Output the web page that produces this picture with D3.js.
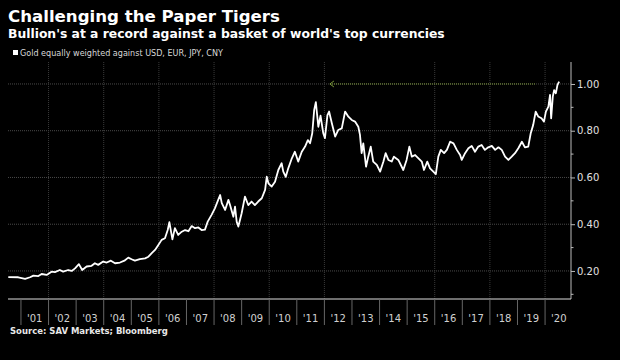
<!DOCTYPE html>
<html><head><meta charset="utf-8">
<script src="https://cdn.jsdelivr.net/npm/d3@7"></script>
<style>
html,body{margin:0;padding:0;background:#000;}
svg{display:block;}
</style></head>
<body>
<svg id="chart" width="620" height="360"></svg>
<script>
// ---- data (decimal year, index value) ----
const years = [2000.54,2000.90,2001.15,2001.33,2001.45,2001.63,2001.75,2001.93,2002.11,2002.23,2002.41,2002.53,2002.71,2002.84,2002.96,2003.10,2003.22,2003.38,2003.56,2003.68,2003.80,2003.98,2004.11,2004.26,2004.41,2004.59,2004.75,2004.89,2005.01,2005.13,2005.31,2005.50,2005.62,2005.74,2005.86,2005.98,2006.10,2006.22,2006.32,2006.38,2006.49,2006.58,2006.70,2006.83,2006.95,2007.07,2007.19,2007.31,2007.43,2007.55,2007.67,2007.77,2007.91,2008.03,2008.15,2008.22,2008.28,2008.40,2008.52,2008.58,2008.70,2008.76,2008.82,2008.88,2008.94,2009.00,2009.12,2009.24,2009.36,2009.48,2009.60,2009.73,2009.85,2009.91,2009.97,2010.09,2010.21,2010.33,2010.45,2010.51,2010.60,2010.69,2010.82,2010.93,2011.05,2011.18,2011.30,2011.40,2011.48,2011.56,2011.63,2011.69,2011.78,2011.86,2011.96,2012.02,2012.11,2012.17,2012.27,2012.39,2012.50,2012.63,2012.75,2012.87,2012.99,2013.11,2013.23,2013.29,2013.35,2013.41,2013.51,2013.59,2013.68,2013.77,2013.90,2014.02,2014.14,2014.22,2014.32,2014.44,2014.52,2014.68,2014.86,2014.98,2015.08,2015.17,2015.29,2015.41,2015.53,2015.61,2015.73,2015.83,2015.95,2016.04,2016.13,2016.22,2016.34,2016.44,2016.56,2016.68,2016.80,2016.92,2016.98,2017.10,2017.22,2017.34,2017.46,2017.58,2017.70,2017.82,2017.94,2018.07,2018.19,2018.31,2018.43,2018.55,2018.67,2018.79,2018.91,2019.03,2019.16,2019.27,2019.39,2019.48,2019.57,2019.66,2019.75,2019.87,2019.96,2020.03,2020.12,2020.18,2020.22,2020.28,2020.33,2020.39,2020.45,2020.51];
const values = [0.174,0.173,0.166,0.173,0.180,0.178,0.187,0.183,0.197,0.195,0.204,0.197,0.204,0.200,0.211,0.229,0.204,0.219,0.222,0.233,0.226,0.240,0.236,0.244,0.233,0.236,0.244,0.257,0.250,0.244,0.251,0.254,0.261,0.276,0.290,0.311,0.333,0.340,0.375,0.409,0.335,0.383,0.354,0.368,0.375,0.370,0.392,0.383,0.386,0.375,0.377,0.411,0.440,0.468,0.504,0.525,0.490,0.461,0.504,0.482,0.432,0.475,0.411,0.390,0.418,0.447,0.518,0.482,0.497,0.482,0.497,0.511,0.547,0.603,0.575,0.561,0.582,0.632,0.661,0.625,0.603,0.639,0.682,0.710,0.668,0.710,0.732,0.760,0.746,0.789,0.889,0.922,0.817,0.864,0.789,0.768,0.867,0.882,0.832,0.775,0.803,0.810,0.882,0.860,0.846,0.839,0.817,0.782,0.704,0.746,0.646,0.689,0.732,0.668,0.654,0.625,0.668,0.704,0.675,0.668,0.689,0.675,0.632,0.675,0.732,0.689,0.696,0.682,0.668,0.632,0.668,0.639,0.625,0.614,0.689,0.718,0.704,0.718,0.753,0.746,0.718,0.696,0.675,0.704,0.725,0.735,0.710,0.732,0.739,0.718,0.729,0.735,0.718,0.729,0.718,0.689,0.675,0.689,0.704,0.725,0.753,0.729,0.732,0.789,0.825,0.882,0.861,0.853,0.839,0.882,0.903,0.953,0.853,0.946,0.974,0.960,0.996,1.010];
const yearLabels = ["'01","'02","'03","'04","'05","'06","'07","'08","'09","'10","'11","'12","'13","'14","'15","'16","'17","'18","'19","'20"];
const labelYears = d3.range(2001, 2021);
const gridYears = [2002,2004,2006,2008,2010,2012,2016,2018,2020];
const yTicks = [0.2,0.4,0.6,0.8,1.0];
const yMinorTicks = [0.1,0.3,0.5,0.7,0.9];
const recordLevel = [1.0];
const recordSpan = [2012.2, 2019.65];

const title = "Challenging the Paper Tigers";
const subtitle = "Bullion's at a record against a basket of world's top currencies";
const legendText = "Gold equally weighted against USD, EUR, JPY, CNY";
const sourceText = "Source: SAV Markets; Bloomberg";

// ---- layout ----
const svg = d3.select("#chart");
const pL = 8, pR = 571, pT = 62, pB = 299;
const x = d3.scaleLinear().domain([2000.53, 2020.94]).range([pL, pR]);
const y = d3.scaleLinear().domain([0.08, 1.094]).range([pB, pT]);

svg.append("rect").attr("width",620).attr("height",360).attr("fill","#000");

function fitText(sel, target) {
  const w = sel.node().getComputedTextLength();
  const fs = parseFloat(sel.attr("font-size"));
  sel.attr("font-size", (fs * target / w).toFixed(2));
}

const tt = svg.append("text").attr("x",8).attr("y",22).attr("fill","#fff")
  .attr("font-family","DejaVu Sans").attr("font-weight","bold").attr("font-size",17).text(title);
fitText(tt, 272);
const st = svg.append("text").attr("x",8).attr("y",38).attr("fill","#fff")
  .attr("font-family","DejaVu Sans").attr("font-weight","bold").attr("font-size",13).text(subtitle);
fitText(st, 437);

// legend
svg.append("rect").attr("x",13).attr("y",50).attr("width",5).attr("height",5).attr("fill","#fff");
const lt = svg.append("text").attr("x",20).attr("y",55.5).attr("fill","#d8d8d8")
  .attr("font-family","DejaVu Sans").attr("font-size",8.5).text(legendText);
fitText(lt, 203);

// grid
const g = svg.append("g");
g.selectAll("line.hg").data(yTicks).join("line").attr("class","hg")
  .attr("x1",pL).attr("x2",pR).attr("y1",d=>y(d)).attr("y2",d=>y(d))
  .attr("stroke","#4a4a4a").attr("stroke-width",1).attr("stroke-dasharray","1,1");
g.selectAll("line.vg").data(gridYears).join("line").attr("class","vg")
  .attr("x1",d=>x(d)).attr("x2",d=>x(d)).attr("y1",pT).attr("y2",pB)
  .attr("stroke","#3a3a3a").attr("stroke-width",1).attr("stroke-dasharray","1,1");

// record arrow
const ag = svg.append("g");
ag.append("line").attr("x1",x(recordSpan[0])).attr("x2",x(recordSpan[1]))
  .attr("y1",y(recordLevel[0])).attr("y2",y(recordLevel[0]))
  .attr("stroke","#7d9a3a").attr("stroke-width",1).attr("stroke-dasharray","1,1");
ag.append("path")
  .attr("d",`M${x(recordSpan[0])+4},${y(recordLevel[0])-3}L${x(recordSpan[0])},${y(recordLevel[0])}L${x(recordSpan[0])+4},${y(recordLevel[0])+3}`)
  .attr("fill","none").attr("stroke","#7d9a3a").attr("stroke-width",1);

// right axis
const ya = svg.append("g").attr("transform",`translate(${pR},0)`)
  .call(d3.axisRight(y).tickValues(yTicks).tickFormat(d3.format(".2f")).tickSize(4).tickPadding(2));
ya.select(".domain").attr("stroke","#bbb").attr("d",`M0,${pT}V${pB}`);
ya.selectAll(".tick line").attr("stroke","#bbb");
ya.selectAll(".tick text").attr("fill","#e0e0e0").attr("font-family","DejaVu Sans").attr("font-size",10);
svg.append("g").selectAll("line").data(yMinorTicks).join("line")
  .attr("x1",pR).attr("x2",pR+2.5).attr("y1",d=>y(d)).attr("y2",d=>y(d)).attr("stroke","#bbb");

// bottom axis
svg.append("line").attr("x1",pL).attr("x2",pR).attr("y1",pB).attr("y2",pB).attr("stroke","#ddd");
svg.append("g").selectAll("line").data(labelYears).join("line")
  .attr("x1",d=>x(d)).attr("x2",d=>x(d)).attr("y1",pB).attr("y2",pB+26)
  .attr("stroke","#666").attr("stroke-width",1);
svg.append("g").selectAll("text").data(labelYears).join("text")
  .attr("x",d=>x(d+0.5)).attr("y",322).attr("text-anchor","middle")
  .attr("fill","#d0d0d0").attr("font-family","DejaVu Sans").attr("font-size",10)
  .text((d,i)=>yearLabels[i]);

// line
const data = years.map((t,i)=>({t, v: values[i]}));
svg.append("path").datum(data)
  .attr("d", d3.line().x(d=>x(d.t)).y(d=>y(d.v)))
  .attr("fill","none").attr("stroke","#fff").attr("stroke-width",1.8).attr("stroke-linejoin","round");

// source
const so = svg.append("text").attr("x",10).attr("y",333.5).attr("fill","#e8e8e8")
  .attr("font-family","DejaVu Sans").attr("font-weight","bold").attr("font-size",9).text(sourceText);
fitText(so, 158);
</script>
</body></html>
